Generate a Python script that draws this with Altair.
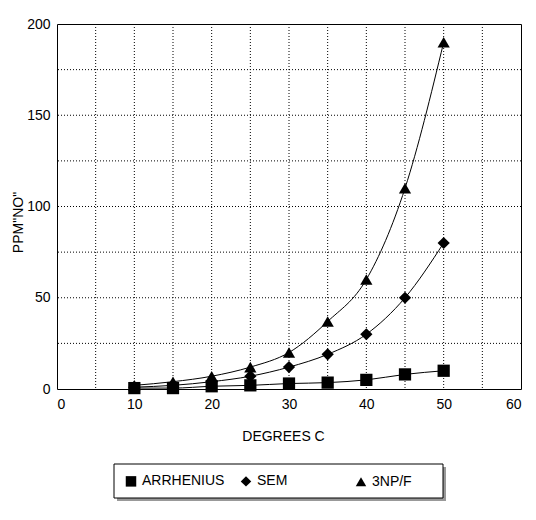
import altair as alt
import pandas as pd

temps = [10, 15, 20, 25, 30, 35, 40, 45, 50]
arrhenius = [0.5, 0.5, 1.5, 2, 3, 3.5, 5, 8, 10]
sem = [1, 2, 4, 7, 12, 19, 30, 50, 80]
np_f = [2, 4, 7, 12, 20, 37, 60, 110, 190]
series_names = ["ARRHENIUS", "SEM", "3NP/F"]
shapes = ["square", "diamond", "triangle-up"]

rows = []
for name, vals in zip(series_names, [arrhenius, sem, np_f]):
    for t, v in zip(temps, vals):
        rows.append({"temp": t, "ppm": v, "series": name})
df = pd.DataFrame(rows)

FONT = "Liberation Sans"

x = alt.X("temp:Q", title="DEGREES C",
          scale=alt.Scale(domain=[0, 60], nice=False),
          axis=alt.Axis(values=list(range(0, 61, 10)),
                        grid=False, ticks=False, labelPadding=8, domain=False,
                        titleX=226, titleY=47, titleBaseline="middle"))
y = alt.Y("ppm:Q", title='PPM"NO"',
          scale=alt.Scale(domain=[0, 200], nice=False),
          axis=alt.Axis(values=list(range(0, 201, 50)), grid=False, ticks=False,
                        labelPadding=7, domain=False,
                        titleX=-39, titleY=198, titleBaseline="middle", titleAlign="center"))

grid_x = alt.Chart(pd.DataFrame({"g": list(range(5, 60, 5))})).mark_rule(
    color="black", strokeDash=[1, 2], strokeWidth=1
).encode(x=alt.X("g:Q", scale=alt.Scale(domain=[0, 60], nice=False)))
grid_y = alt.Chart(pd.DataFrame({"g": list(range(25, 200, 25))})).mark_rule(
    color="black", strokeDash=[1, 2], strokeWidth=1
).encode(y=alt.Y("g:Q", scale=alt.Scale(domain=[0, 200], nice=False)))

shadow = alt.Chart(pd.DataFrame({"a": [0]})).mark_rect(color="#999999").encode(
    x=alt.value(60), x2=alt.value(389), y=alt.value(443), y2=alt.value(477)
)
legend_box = alt.Chart(pd.DataFrame({"a": [0]})).mark_rect(
    fill="white", stroke="black", strokeWidth=1
).encode(
    x=alt.value(57), x2=alt.value(386), y=alt.value(440), y2=alt.value(474)
)

lines = alt.Chart(df).mark_line(color="black", strokeWidth=1, interpolate="monotone").encode(
    x=x, y=y, detail="series:N"
)
points = alt.Chart(df).mark_point(filled=True, color="black", opacity=1, size=150).encode(
    x=x, y=y,
    shape=alt.Shape("series:N", scale=alt.Scale(domain=series_names, range=shapes),
                    legend=alt.Legend(title=None, orient="none", direction="horizontal",
                                      legendX=57, legendY=440, columns=3,
                                      gridAlign="all",
                                      padding=10, columnPadding=12,
                                      symbolFillColor="black", symbolStrokeColor="black",
                                      symbolSize=110, labelFont=FONT, labelFontSize=14,
                                      labelColor="black", labelOffset=4)),
)

chart = alt.layer(shadow, legend_box, grid_x, grid_y, lines, points).properties(
    width=464, height=365,
    background="white",
    autosize=alt.AutoSizeParams(type="none"),
    padding={"left": 57, "top": 24, "right": 15, "bottom": 131},
).configure_view(stroke="black", strokeWidth=1).configure_axis(
    labelFont=FONT, labelFontSize=14, labelColor="black",
    titleFont=FONT, titleFontSize=14, titleColor="black", titleFontWeight="normal"
)

chart.save("out.html", embed_options={"renderer": "svg", "actions": False})
